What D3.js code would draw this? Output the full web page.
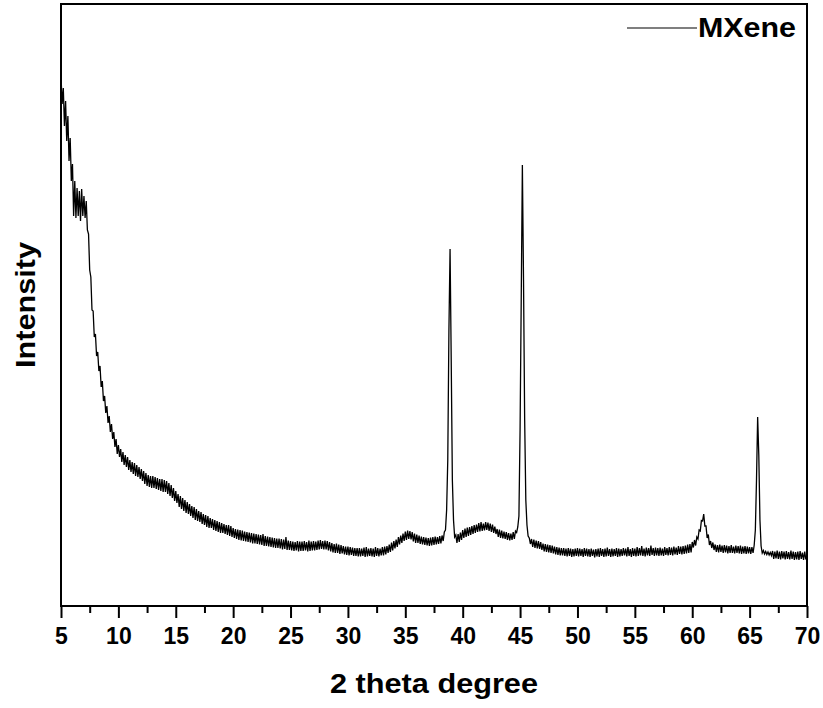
<!DOCTYPE html>
<html>
<head>
<meta charset="utf-8">
<script src="https://cdn.jsdelivr.net/npm/d3@7"></script>
<style>
  body { margin: 0; background: #fff; }
  svg { display: block; font-family: "Liberation Sans", Arial, sans-serif; }
</style>
</head>
<body>
<svg width="823" height="708"></svg>
<script>
// data: XRD intensity, one value every 0.1 degree
let seriesName = 'MXene'
let stepDeg = 0.1

// 5.0 - 19.9
let lowStart = 5.0
let lowAngle = [
  5300, 5020, 5180, 4800, 5050, 4650, 4900, 4450, 4680, 4250,
  4420, 3900, 4250, 3880, 4180, 3900, 4150, 3850, 4170, 3900,
  4100, 3880, 4050, 3760, 3720, 3360, 3290, 2960, 2950, 2690,
  2720, 2500, 2540, 2350, 2400, 2190, 2250, 2050, 2100, 1930,
  2000, 1830, 1900, 1740, 1820, 1670, 1740, 1590, 1670, 1520,
  1610, 1490, 1570, 1440, 1540, 1410, 1510, 1390, 1490, 1360,
  1460, 1340, 1440, 1320, 1430, 1300, 1410, 1290, 1390, 1270,
  1370, 1250, 1350, 1220, 1330, 1200, 1310, 1190, 1300, 1180,
  1300, 1180, 1290, 1170, 1280, 1160, 1270, 1150, 1270, 1140,
  1260, 1140, 1250, 1120, 1230, 1100, 1210, 1080, 1180, 1050,
  1150, 1030, 1120, 990, 1100, 970, 1080, 950, 1060, 930,
  1040, 920, 1020, 900, 1000, 880, 990, 860, 970, 850,
  950, 840, 940, 820, 920, 810, 910, 790, 900, 780,
  880, 780, 870, 760, 860, 750, 850, 740, 840, 730,
  830, 730, 820, 720, 810, 710, 810, 700, 800, 690
]

// 20.0 - 49.9
let midStart = 20.0
let midAngle = [
  780, 680, 770, 670, 765, 660, 760, 655, 755, 650,
  745, 645, 740, 640, 735, 635, 730, 625, 725, 625,
  720, 620, 715, 615, 710, 610, 720, 600, 700, 600,
  695, 595, 690, 590, 685, 585, 680, 580, 675, 580,
  675, 575, 670, 565, 665, 570, 690, 560, 655, 560,
  650, 555, 645, 550, 640, 555, 650, 545, 645, 550,
  645, 550, 650, 555, 640, 545, 655, 550, 645, 555,
  650, 555, 645, 560, 655, 565, 660, 570, 650, 565,
  655, 565, 650, 555, 640, 545, 630, 535, 620, 530,
  625, 530, 615, 520, 610, 525, 600, 515, 595, 510,
  595, 505, 590, 510, 585, 500, 580, 500, 580, 495,
  580, 495, 575, 500, 585, 490, 590, 495, 575, 500,
  580, 495, 575, 490, 590, 500, 580, 495, 575, 505,
  590, 505, 595, 515, 600, 530, 615, 540, 635, 555,
  650, 575, 665, 590, 690, 615, 705, 630, 725, 650,
  745, 660, 755, 670, 750, 665, 740, 645, 725, 630,
  715, 630, 705, 620, 695, 615, 690, 610, 685, 605,
  680, 600, 685, 605, 690, 610, 695, 615, 690, 620,
  700, 625, 705, 650, 740, 760, 960, 1460, 2760, 3570,
  2460, 1260, 860, 690, 710, 630, 720, 640, 735, 660,
  760, 680, 775, 690, 785, 700, 790, 710, 800, 720,
  810, 730, 815, 740, 830, 745, 840, 750, 825, 755,
  840, 760, 835, 750, 825, 740, 815, 730, 795, 720,
  770, 690, 765, 680, 755, 675, 745, 670, 740, 660,
  730, 655, 725, 660, 740, 670, 750, 735, 790, 900,
  1760, 3060, 4410, 3260, 1860, 1060, 810, 700, 680, 620,
  670, 590, 665, 580, 655, 575, 650, 570, 640, 560,
  625, 545, 620, 540, 615, 535, 610, 530, 605, 525,
  595, 515, 590, 510, 585, 505, 580, 505, 580, 500,
  575, 495, 580, 500, 575, 490, 570, 495, 575, 500
]

// 50.0 - 70.0
let highStart = 50.0
let highAngle = [
  580, 495, 575, 500, 570, 490, 580, 500, 575, 495,
  570, 490, 575, 500, 565, 485, 570, 495, 575, 490,
  580, 500, 570, 490, 575, 495, 585, 500, 570, 490,
  575, 495, 570, 500, 580, 490, 575, 495, 570, 500,
  580, 505, 575, 495, 590, 500, 570, 490, 580, 500,
  575, 495, 590, 500, 580, 505, 600, 500, 575, 495,
  585, 505, 580, 500, 605, 510, 580, 500, 585, 505,
  580, 500, 585, 505, 575, 500, 590, 510, 580, 505,
  590, 510, 585, 505, 595, 515, 585, 510, 600, 520,
  595, 515, 600, 520, 605, 525, 615, 530, 620, 535,
  640, 585, 660, 605, 690, 670, 760, 750, 855, 850,
  920, 800, 800, 680, 715, 610, 650, 580, 635, 560,
  615, 540, 610, 535, 615, 540, 605, 530, 610, 535,
  605, 525, 600, 530, 610, 530, 595, 525, 605, 530,
  600, 525, 605, 520, 595, 525, 600, 520, 595, 525,
  590, 520, 590, 530, 610, 760, 1260, 1890, 1510, 860,
  600, 530, 555, 520, 545, 515, 540, 510, 535, 505,
  550, 470, 545, 475, 555, 470, 545, 465, 550, 475,
  545, 465, 550, 470, 540, 465, 555, 470, 545, 460,
  540, 465, 545, 460, 550, 470, 535, 460, 545, 465,
  500
]

let xTicks = [5, 10, 15, 20, 25, 30, 35, 40, 45, 50, 55, 60, 65, 70]
let xMinorTicks = [7.5, 12.5, 17.5, 22.5, 27.5, 32.5, 37.5, 42.5, 47.5, 52.5, 57.5, 62.5, 67.5]

// build points
function toPoints(start, arr) {
  return arr.map((v, i) => ({theta: +(start + i * stepDeg).toFixed(1), counts: v}))
}
let points = toPoints(lowStart, lowAngle)
  .concat(toPoints(midStart, midAngle))
  .concat(toPoints(highStart, highAngle))

// layout
let plotLeft = 61, plotRight = 807, plotTop = 4, plotBottom = 606

let svg = d3.select('svg')

let x = d3.scaleLinear().domain([5, 70]).range([plotLeft, plotRight])
let y = d3.scaleLinear().domain([0, 6020]).range([plotBottom, plotTop])

// curve
let line = d3.line()
  .x(d => x(d.theta))
  .y(d => y(d.counts))

svg.append('path')
  .datum(points)
  .attr('d', line)
  .attr('fill', 'none')
  .attr('stroke', '#000')
  .attr('stroke-width', 1.3)

// minor ticks
svg.append('g')
  .attr('transform', `translate(0, ${plotBottom})`)
  .call(d3.axisBottom(x).tickValues(xMinorTicks).tickSize(7).tickFormat(''))
  .call(g => g.select('.domain').remove())
  .selectAll('line').attr('stroke', '#000').attr('stroke-width', 2)

// major ticks + labels
let xAxis = svg.append('g')
  .attr('transform', `translate(0, ${plotBottom})`)
  .call(d3.axisBottom(x).tickValues(xTicks).tickSize(12).tickPadding(10).tickFormat(d3.format('d')))

xAxis.select('.domain').remove()
xAxis.selectAll('line').attr('stroke', '#000').attr('stroke-width', 2)
xAxis.selectAll('text')
  .attr('fill', '#000')
  .style('font-size', '23px')
  .style('font-weight', 'bold')
  .style('font-family', '"Liberation Sans", Arial, sans-serif')

// frame
svg.append('rect')
  .attr('x', plotLeft)
  .attr('y', plotTop)
  .attr('width', plotRight - plotLeft)
  .attr('height', plotBottom - plotTop)
  .attr('fill', 'none')
  .attr('stroke', '#000')
  .attr('stroke-width', 2)

// axis titles
svg.append('text')
  .attr('x', (plotLeft + plotRight) / 2)
  .attr('y', 693)
  .attr('text-anchor', 'middle')
  .attr('textLength', 208)
  .attr('lengthAdjust', 'spacingAndGlyphs')
  .style('font-size', '28px')
  .style('font-weight', 'bold')
  .text('2 theta degree')

svg.append('text')
  .attr('transform', `translate(35, ${(plotTop + plotBottom) / 2}) rotate(-90)`)
  .attr('text-anchor', 'middle')
  .attr('textLength', 126)
  .attr('lengthAdjust', 'spacingAndGlyphs')
  .style('font-size', '28px')
  .style('font-weight', 'bold')
  .text('Intensity')

// legend
svg.append('line')
  .attr('x1', 627)
  .attr('x2', 697)
  .attr('y1', 28)
  .attr('y2', 28)
  .attr('stroke', '#555')
  .attr('stroke-width', 1.5)

svg.append('text')
  .attr('x', 698)
  .attr('y', 37)
  .attr('textLength', 98)
  .attr('lengthAdjust', 'spacingAndGlyphs')
  .style('font-size', '27px')
  .style('font-weight', 'bold')
  .text(seriesName)
</script>
</body>
</html>
